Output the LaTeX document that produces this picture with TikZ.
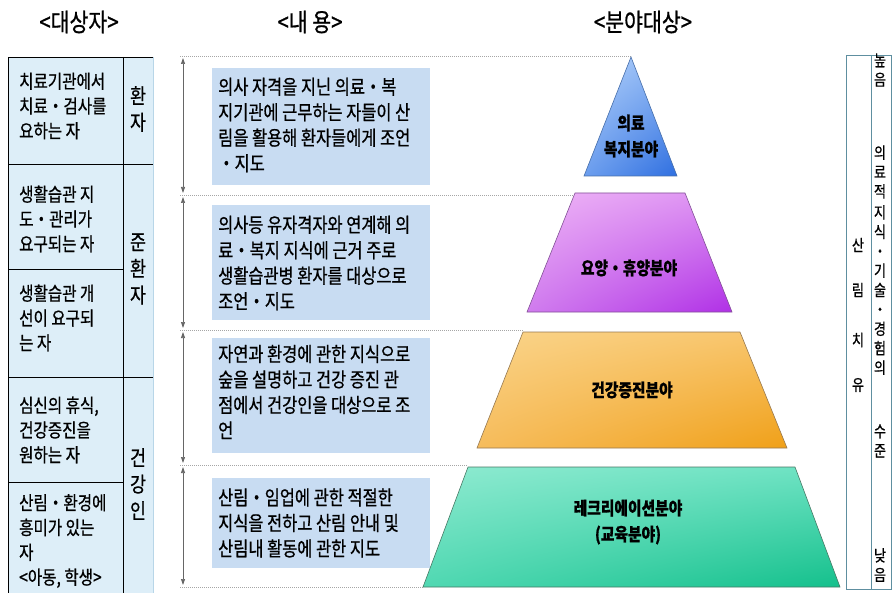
\documentclass[tikz,border=0pt]{standalone}
\usepackage{fontspec}
\setmainfont{Noto Sans CJK KR}[FakeStretch=0.82, FakeBold=0.7]
\usetikzlibrary{arrows.meta,shadings}
\definecolor{tblfill}{HTML}{DDEEF8}
\definecolor{tbledge}{HTML}{B8D6E8}
\definecolor{boxfill}{HTML}{C8DCF2}
\definecolor{rbox}{HTML}{5E8FA0}
\definecolor{arr}{HTML}{666666}
\definecolor{bUL}{HTML}{B4D2FA}\definecolor{bUR}{HTML}{8AB4F4}\definecolor{bLL}{HTML}{6C9EEE}\definecolor{bLR}{HTML}{2F6FE0}
\definecolor{pUL}{HTML}{EEB4F6}\definecolor{pUR}{HTML}{DC90F2}\definecolor{pLL}{HTML}{D07CEE}\definecolor{pLR}{HTML}{B030E6}
\definecolor{oUL}{HTML}{FAD48A}\definecolor{oUR}{HTML}{F8C46A}\definecolor{oLL}{HTML}{F6BC5C}\definecolor{oLR}{HTML}{F0A018}
\definecolor{tUL}{HTML}{8EEAD0}\definecolor{tUR}{HTML}{6CE2C2}\definecolor{tLL}{HTML}{50D8B2}\definecolor{tLR}{HTML}{14C08C}
\definecolor{bEdge}{HTML}{466EAA}
\definecolor{pEdge}{HTML}{825096}
\definecolor{oEdge}{HTML}{967850}
\definecolor{tEdge}{HTML}{467864}
\tikzset{
  hdr/.style={inner sep=0pt, font=\fontsize{25}{28}\selectfont},
  lefttxt/.style={anchor=west, inner sep=0pt, align=left, font=\fontsize{19}{24.8}\selectfont},
  grptxt/.style={inner sep=0pt, align=center, font=\fontsize{21}{26.5}\selectfont},
  boxtxt/.style={anchor=west, inner sep=0pt, align=left, font=\fontsize{20}{25.5}\selectfont},
  pyrtxt/.style={inner sep=0pt, align=center, font=\bfseries\fontsize{18}{26}\selectfont},
  infobox/.style={fill=boxfill, draw=none},
  guide/.style={draw=gray!70, dash pattern=on 1pt off 1pt, line width=0.6pt},
  span/.style={draw=arr, line width=0.7pt, {Triangle[length=6pt,width=4pt]}-{Triangle[length=6pt,width=4pt]}},
  rtxt/.style={inner sep=0pt, align=center, font=\fontsize{16}{19.4}\selectfont},
  pyredge/.style={line width=0.6pt}
}
\begin{document}
\begin{tikzpicture}[x=1pt,y=-1pt]
\useasboundingbox (0,0) rectangle (893,593);

% headers
\node[hdr] (h1) at (79,22) {<대상자>};
\node[hdr] (h2) at (310,22) {<내 용>};
\node[hdr] (h3) at (643,22) {<분야대상>};

% left table
\fill[tblfill] (8,57) rectangle (153,593);
\draw[tbledge, line width=0.8pt] (153,57) -- (153,593);
\draw[black, line width=0.8pt] (8,593) -- (8,57) -- (153,57);
\draw[black, line width=0.8pt] (123,57) -- (123,593);
\draw[black, line width=0.8pt] (8,164) -- (153,164);
\draw[black, line width=0.8pt] (8,269) -- (123,269);
\draw[black, line width=0.8pt] (8,377) -- (153,377);
\draw[black, line width=0.8pt] (8,482) -- (123,482);

\node[lefttxt] (r1) at (19,106) {치료기관에서\\치료・검사를\\요하는 자};
\node[lefttxt] (r2) at (19,219) {생활습관 지\\도・관리가\\요구되는 자};
\node[lefttxt] (r3) at (19,318) {생활습관 개\\선이 요구되\\는 자};
\node[lefttxt] (r4) at (19,430) {심신의 휴식,\\건강증진을\\원하는 자};
\node[lefttxt] (r5) at (19,541) {산림・환경에\\흥미가 있는\\자\\<아동, 학생>};

\node[grptxt] (g1) at (138,109) {환\\자};
\node[grptxt] (g2) at (138,269) {준\\환\\자};
\node[grptxt] (g3) at (138,484) {건\\강\\인};

% guide lines
\coordinate (d0) at (180,56);  \coordinate (e0) at (631,56);
\coordinate (d1) at (180,195); \coordinate (e1) at (575,195);
\coordinate (d2) at (180,330); \coordinate (e2) at (523,330);
\coordinate (d3) at (180,465); \coordinate (e3) at (468,465);
\coordinate (d4) at (180,587); \coordinate (e4) at (423,587);
\draw[guide] (d0) -- (e0);
\draw[guide] (d1) -- (e1);
\draw[guide] (d2) -- (e2);
\draw[guide] (d3) -- (e3);
\draw[guide] (d4) -- (e4);

\coordinate (a0t) at (183,58);  \coordinate (a0b) at (183,193);
\coordinate (a1t) at (183,197); \coordinate (a1b) at (183,328);
\coordinate (a2t) at (183,332); \coordinate (a2b) at (183,463);
\coordinate (a3t) at (183,467); \coordinate (a3b) at (183,585);
\draw[span] (a0t) -- (a0b);
\draw[span] (a1t) -- (a1b);
\draw[span] (a2t) -- (a2b);
\draw[span] (a3t) -- (a3b);

% info boxes
\fill[infobox] (212,68) rectangle (430,185);
\fill[infobox] (212,205) rectangle (430,320);
\fill[infobox] (212,338) rectangle (430,453);
\fill[infobox] (212,478) rectangle (430,568);
\node[boxtxt] (b1) at (218,125) {의사 자격을 지닌 의료・복\\지기관에 근무하는 자들이 산\\림을 활용해 환자들에게 조언\\・지도};
\node[boxtxt] (b2) at (218,263) {의사등 유자격자와 연계해 의\\료・복지 지식에 근거 주로\\생활습관병 환자를 대상으로\\조언・지도};
\node[boxtxt] (b3) at (218,392) {자연과 환경에 관한 지식으로\\숲을 설명하고 건강 증진 관\\점에서 건강인을 대상으로 조\\언};
\node[boxtxt] (b4) at (218,523) {산림・임업에 관한 적절한\\지식을 전하고 산림 안내 및\\산림내 활동에 관한 지도};

% pyramid
\shade[upper left=bUL, upper right=bUR, lower left=bLL, lower right=bLR]
  (631,57) -- (677,176) -- (584,176) -- cycle;
\draw[pyredge, draw=bEdge] (631,57) -- (677,176) -- (584,176) -- cycle;
\shade[upper left=pUL, upper right=pUR, lower left=pLL, lower right=pLR]
  (575,193) -- (685,193) -- (732,312) -- (527,312) -- cycle;
\draw[pyredge, draw=pEdge] (575,193) -- (685,193) -- (732,312) -- (527,312) -- cycle;
\shade[upper left=oUL, upper right=oUR, lower left=oLL, lower right=oLR]
  (523,332) -- (740,332) -- (787,448) -- (477,448) -- cycle;
\draw[pyredge, draw=oEdge] (523,332) -- (740,332) -- (787,448) -- (477,448) -- cycle;
\shade[upper left=tUL, upper right=tUR, lower left=tLL, lower right=tLR]
  (468,467) -- (795,467) -- (840,587) -- (423,587) -- cycle;
\draw[pyredge, draw=tEdge] (468,467) -- (795,467) -- (840,587) -- (423,587) -- cycle;

\node[pyrtxt] (p1) at (631,136) {의료\\복지분야};
\node[pyrtxt] (p2) at (629,268) {요양・휴양분야};
\node[pyrtxt] (p3) at (632,390) {건강증진분야};
\node[pyrtxt] (p4) at (628,522) {레크리에이션분야\\(교육분야)};

% right box
\draw[rbox, line width=0.8pt] (846,55) rectangle (891,589);
\draw[rbox, line width=0.8pt] (871,55) -- (871,589);
\node[rtxt] (s1) at (858,245) {산};
\node[rtxt] (s2) at (858,290) {림};
\node[rtxt] (s3) at (858,340) {치};
\node[rtxt] (s4) at (858,385) {유};
\node[rtxt] (q1) at (880,70) {높\\음};
\node[rtxt] (q2) at (880,172) {의\\료\\적};
\node[rtxt] (q3) at (880,290) {지\\식\\・\\기\\술\\・\\경\\험\\의};
\node[rtxt] (q4) at (880,441) {수\\준};
\node[rtxt] (q5) at (880,565) {낮\\음};
\end{tikzpicture}
\end{document}
